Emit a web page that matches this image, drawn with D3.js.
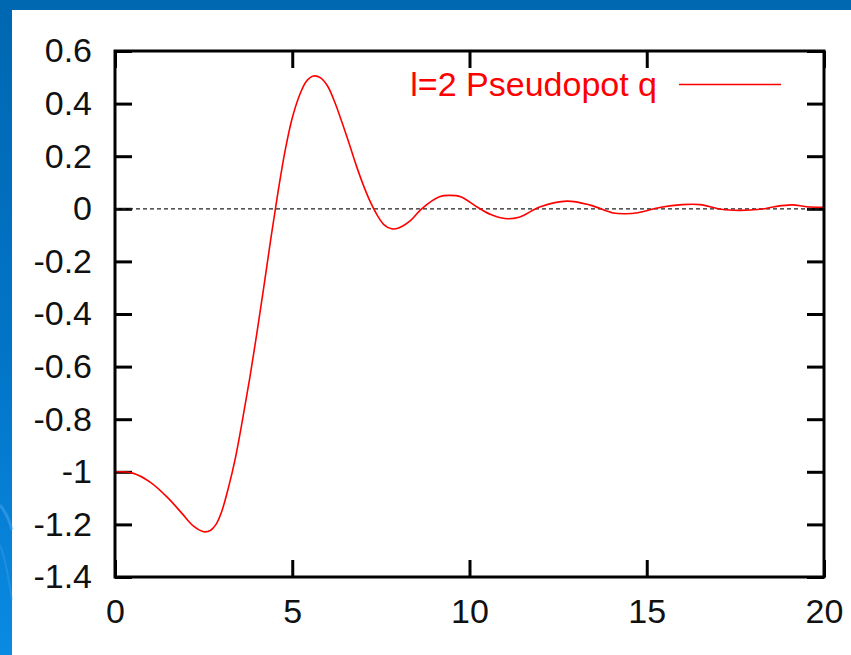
<!DOCTYPE html>
<html>
<head>
<meta charset="utf-8">
<script src="https://cdn.jsdelivr.net/npm/d3@7"></script>
<style>
  html, body { margin: 0; padding: 0; background: #fff; }
  svg { display: block; }
</style>
</head>
<body>
<svg id="chart" width="851" height="655"></svg>
<script>
// l=2 pseudopotential q(r): sampled values
const rValues = [0, 0.5, 1.0, 1.5, 1.9, 2.2, 2.5, 2.7, 2.85, 3.0, 3.2, 3.4, 3.6, 3.8, 4.0, 4.2, 4.4, 4.6, 4.8, 5.0, 5.2, 5.4, 5.6, 5.8, 6.0, 6.2, 6.4, 6.6, 6.8, 7.0, 7.2, 7.4, 7.6, 7.8, 8.0, 8.35, 8.65, 9.15, 9.45, 9.75, 10.2, 10.6, 11.0, 11.4, 12.0, 12.75, 13.4, 14.05, 14.4, 14.75, 15.4, 16.0, 16.5, 17.1, 17.6, 18.2, 18.6, 19.1, 19.5, 20.0];
const qValues = [-1.0, -1.005, -1.04, -1.10, -1.16, -1.205, -1.228, -1.222, -1.200, -1.155, -1.06, -0.945, -0.80, -0.645, -0.475, -0.295, -0.11, 0.065, 0.222, 0.345, 0.43, 0.485, 0.505, 0.498, 0.466, 0.405, 0.33, 0.25, 0.167, 0.092, 0.027, -0.025, -0.062, -0.076, -0.073, -0.043, 0.0, 0.046, 0.051, 0.046, 0.008, -0.022, -0.037, -0.032, 0.008, 0.029, 0.014, -0.016, -0.019, -0.015, 0.006, 0.016, 0.016, -0.002, -0.006, -0.002, 0.008, 0.015, 0.008, 0.006];

const xTicks = [0, 5, 10, 15, 20];
const xTickLabels = ["0", "5", "10", "15", "20"];
const yTicks = [0.6, 0.4, 0.2, 0, -0.2, -0.4, -0.6, -0.8, -1, -1.2, -1.4];
const yTickLabels = ["0.6", "0.4", "0.2", "0", "-0.2", "-0.4", "-0.6", "-0.8", "-1", "-1.2", "-1.4"];
const legendLabel = "l=2 Pseudopot q";

const svg = d3.select("#chart");
const W = 851, H = 655;

// Slide-style backdrop: blue bands at top and left, white panel
const defs = svg.append("defs");
const grad = defs.append("linearGradient").attr("id", "sideBlue")
  .attr("x1", 0).attr("y1", 0).attr("x2", 0).attr("y2", 1);
grad.append("stop").attr("offset", "0%").attr("stop-color", "#0067b1");
grad.append("stop").attr("offset", "55%").attr("stop-color", "#0275c8");
grad.append("stop").attr("offset", "100%").attr("stop-color", "#0a8ae2");

svg.append("rect").attr("x", 0).attr("y", 0).attr("width", W).attr("height", H).attr("fill", "#ffffff");
svg.append("rect").attr("x", 0).attr("y", 0).attr("width", W).attr("height", 10).attr("fill", "#0067b1");
svg.append("rect").attr("x", 0).attr("y", 0).attr("width", 12).attr("height", H).attr("fill", "url(#sideBlue)");
// faint light streaks in the lower part of the side band
svg.append("path")
  .attr("d", "M0,505 Q8,515 12,530")
  .attr("fill", "none").attr("stroke", "#4aa6ec").attr("stroke-opacity", 0.5).attr("stroke-width", 3);
svg.append("path")
  .attr("d", "M0,545 Q6,560 12,600")
  .attr("fill", "none").attr("stroke", "#4aa6ec").attr("stroke-opacity", 0.35).attr("stroke-width", 2);

// Plot frame
const plotLeft = 115, plotRight = 824, plotTop = 51, plotBottom = 577;
const x = d3.scaleLinear().domain([0, 20]).range([plotLeft, plotRight]);
const y = d3.scaleLinear().domain([-1.4, 0.6]).range([plotBottom, plotTop]);

const font = "'Liberation Sans', Arial, sans-serif";
const tickLen = 17;

function styleAxis(g, showLabels) {
  g.select(".domain").remove();
  g.selectAll(".tick line").attr("stroke", "#000").attr("stroke-width", 3);
  g.selectAll(".tick text")
    .attr("font-family", font)
    .attr("font-size", 34)
    .attr("fill", "#111")
    .style("display", showLabels ? null : "none");
}

svg.append("g")
  .attr("transform", `translate(0,${plotBottom})`)
  .call(d3.axisBottom(x).tickValues(xTicks)
    .tickFormat((d, i) => xTickLabels[i])
    .tickSizeInner(-tickLen).tickSizeOuter(0).tickPadding(22))
  .call(g => styleAxis(g, true));

svg.append("g")
  .attr("transform", `translate(0,${plotTop})`)
  .call(d3.axisTop(x).tickValues(xTicks)
    .tickSizeInner(-tickLen).tickSizeOuter(0))
  .call(g => styleAxis(g, false));

svg.append("g")
  .attr("transform", `translate(${plotLeft},0)`)
  .call(d3.axisLeft(y).tickValues(yTicks)
    .tickFormat((d, i) => yTickLabels[i])
    .tickSizeInner(-tickLen).tickSizeOuter(0).tickPadding(23))
  .call(g => styleAxis(g, true));

svg.append("g")
  .attr("transform", `translate(${plotRight},0)`)
  .call(d3.axisRight(y).tickValues(yTicks)
    .tickSizeInner(-tickLen).tickSizeOuter(0))
  .call(g => styleAxis(g, false));

// Zero reference line
svg.append("line")
  .attr("x1", x(0)).attr("x2", x(20))
  .attr("y1", y(0)).attr("y2", y(0))
  .attr("stroke", "#222").attr("stroke-width", 1.3)
  .attr("stroke-dasharray", "4,3");

// Curve
const data = rValues.map((r, i) => ({ r, q: qValues[i] }));
const line = d3.line()
  .x(d => x(d.r))
  .y(d => y(d.q))
  .curve(d3.curveCatmullRom.alpha(0.5));

svg.append("path")
  .datum(data)
  .attr("fill", "none")
  .attr("stroke", "#ff0000")
  .attr("stroke-width", 1.6)
  .attr("d", line);

// Frame drawn over everything
svg.append("rect")
  .attr("x", plotLeft).attr("y", plotTop)
  .attr("width", plotRight - plotLeft).attr("height", plotBottom - plotTop)
  .attr("fill", "none").attr("stroke", "#000").attr("stroke-width", 3);

// Legend
const legend = svg.append("g");
legend.append("text")
  .attr("x", 657).attr("y", 84)
  .attr("dy", "0.35em")
  .attr("text-anchor", "end")
  .attr("font-family", font)
  .attr("font-size", 34)
  .attr("fill", "#ff0000")
  .text(legendLabel);
legend.append("line")
  .attr("x1", 679).attr("x2", 781)
  .attr("y1", 84.5).attr("y2", 84.5)
  .attr("stroke", "#ff0000").attr("stroke-width", 1.6);
</script>
</body>
</html>
